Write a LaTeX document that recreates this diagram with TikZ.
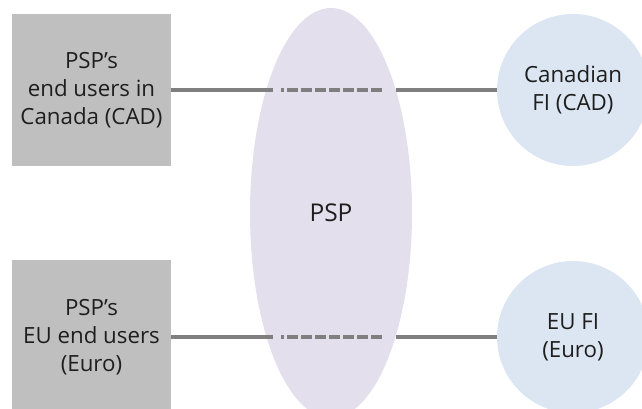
\documentclass[tikz,border=0pt]{standalone}
\usepackage{fontspec}
\setmainfont{Open Sans}
\usetikzlibrary{shapes.geometric}
\definecolor{boxgray}{HTML}{BFBFBF}
\definecolor{pspfill}{HTML}{E4DFEC}
\definecolor{fifill}{HTML}{DCE6F2}
\definecolor{linkgray}{HTML}{7F7F7F}
\definecolor{txt}{HTML}{1E1E1E}
\begin{document}
\begin{tikzpicture}[x=1pt,y=-1pt,
  lbl/.style={text=txt, font=\fontsize{22.3}{28}\selectfont, align=center},
  userbox/.style={lbl, fill=boxgray, minimum width=159pt, minimum height=152pt, inner sep=0pt},
  fiball/.style={lbl, circle, fill=fifill, minimum size=152pt, inner sep=0pt},
  link/.style={draw=linkgray, line width=3.2pt},
  innerlink/.style={link, dash pattern=on 11pt off 3pt, dash phase=8pt}]
\useasboundingbox (0,0) rectangle (642,408);
\clip (0,0) rectangle (642,408);

% payment service provider in the middle
\node[ellipse, fill=pspfill, minimum width=162pt, minimum height=410pt, inner sep=0pt,
      lbl, font=\fontsize{24.5}{28}\selectfont] (psp) at (331,213) {PSP};

% end users on the left
\node[userbox] (cad) at (91.5,90) {PSP’s\\end users in\\Canada (CAD)};
\node[userbox, minimum height=154pt] (eur) at (91.5,337) {PSP’s\\EU end users\\(Euro)};

% financial institutions on the right
\node[fiball] (cfi) at (573,90) {Canadian\\FI (CAD)};
\node[fiball] (efi) at (573,337) {EU FI\\(Euro)};

% break points where the links pass through the PSP
\coordinate (c1) at (273,90);
\coordinate (c2) at (281,90);
\coordinate (c3) at (385,90);
\coordinate (c4) at (396,90);
\coordinate (e1) at (273,337);
\coordinate (e2) at (281,337);
\coordinate (e3) at (385,337);
\coordinate (e4) at (396,337);

\draw[link] (cad.east) -- (c1);
\draw[innerlink] (c2) -- (c3);
\draw[link] (c4) -- (cfi.west);

\draw[link] (eur.east) -- (e1);
\draw[innerlink] (e2) -- (e3);
\draw[link] (e4) -- (efi.west);
\end{tikzpicture}
\end{document}
